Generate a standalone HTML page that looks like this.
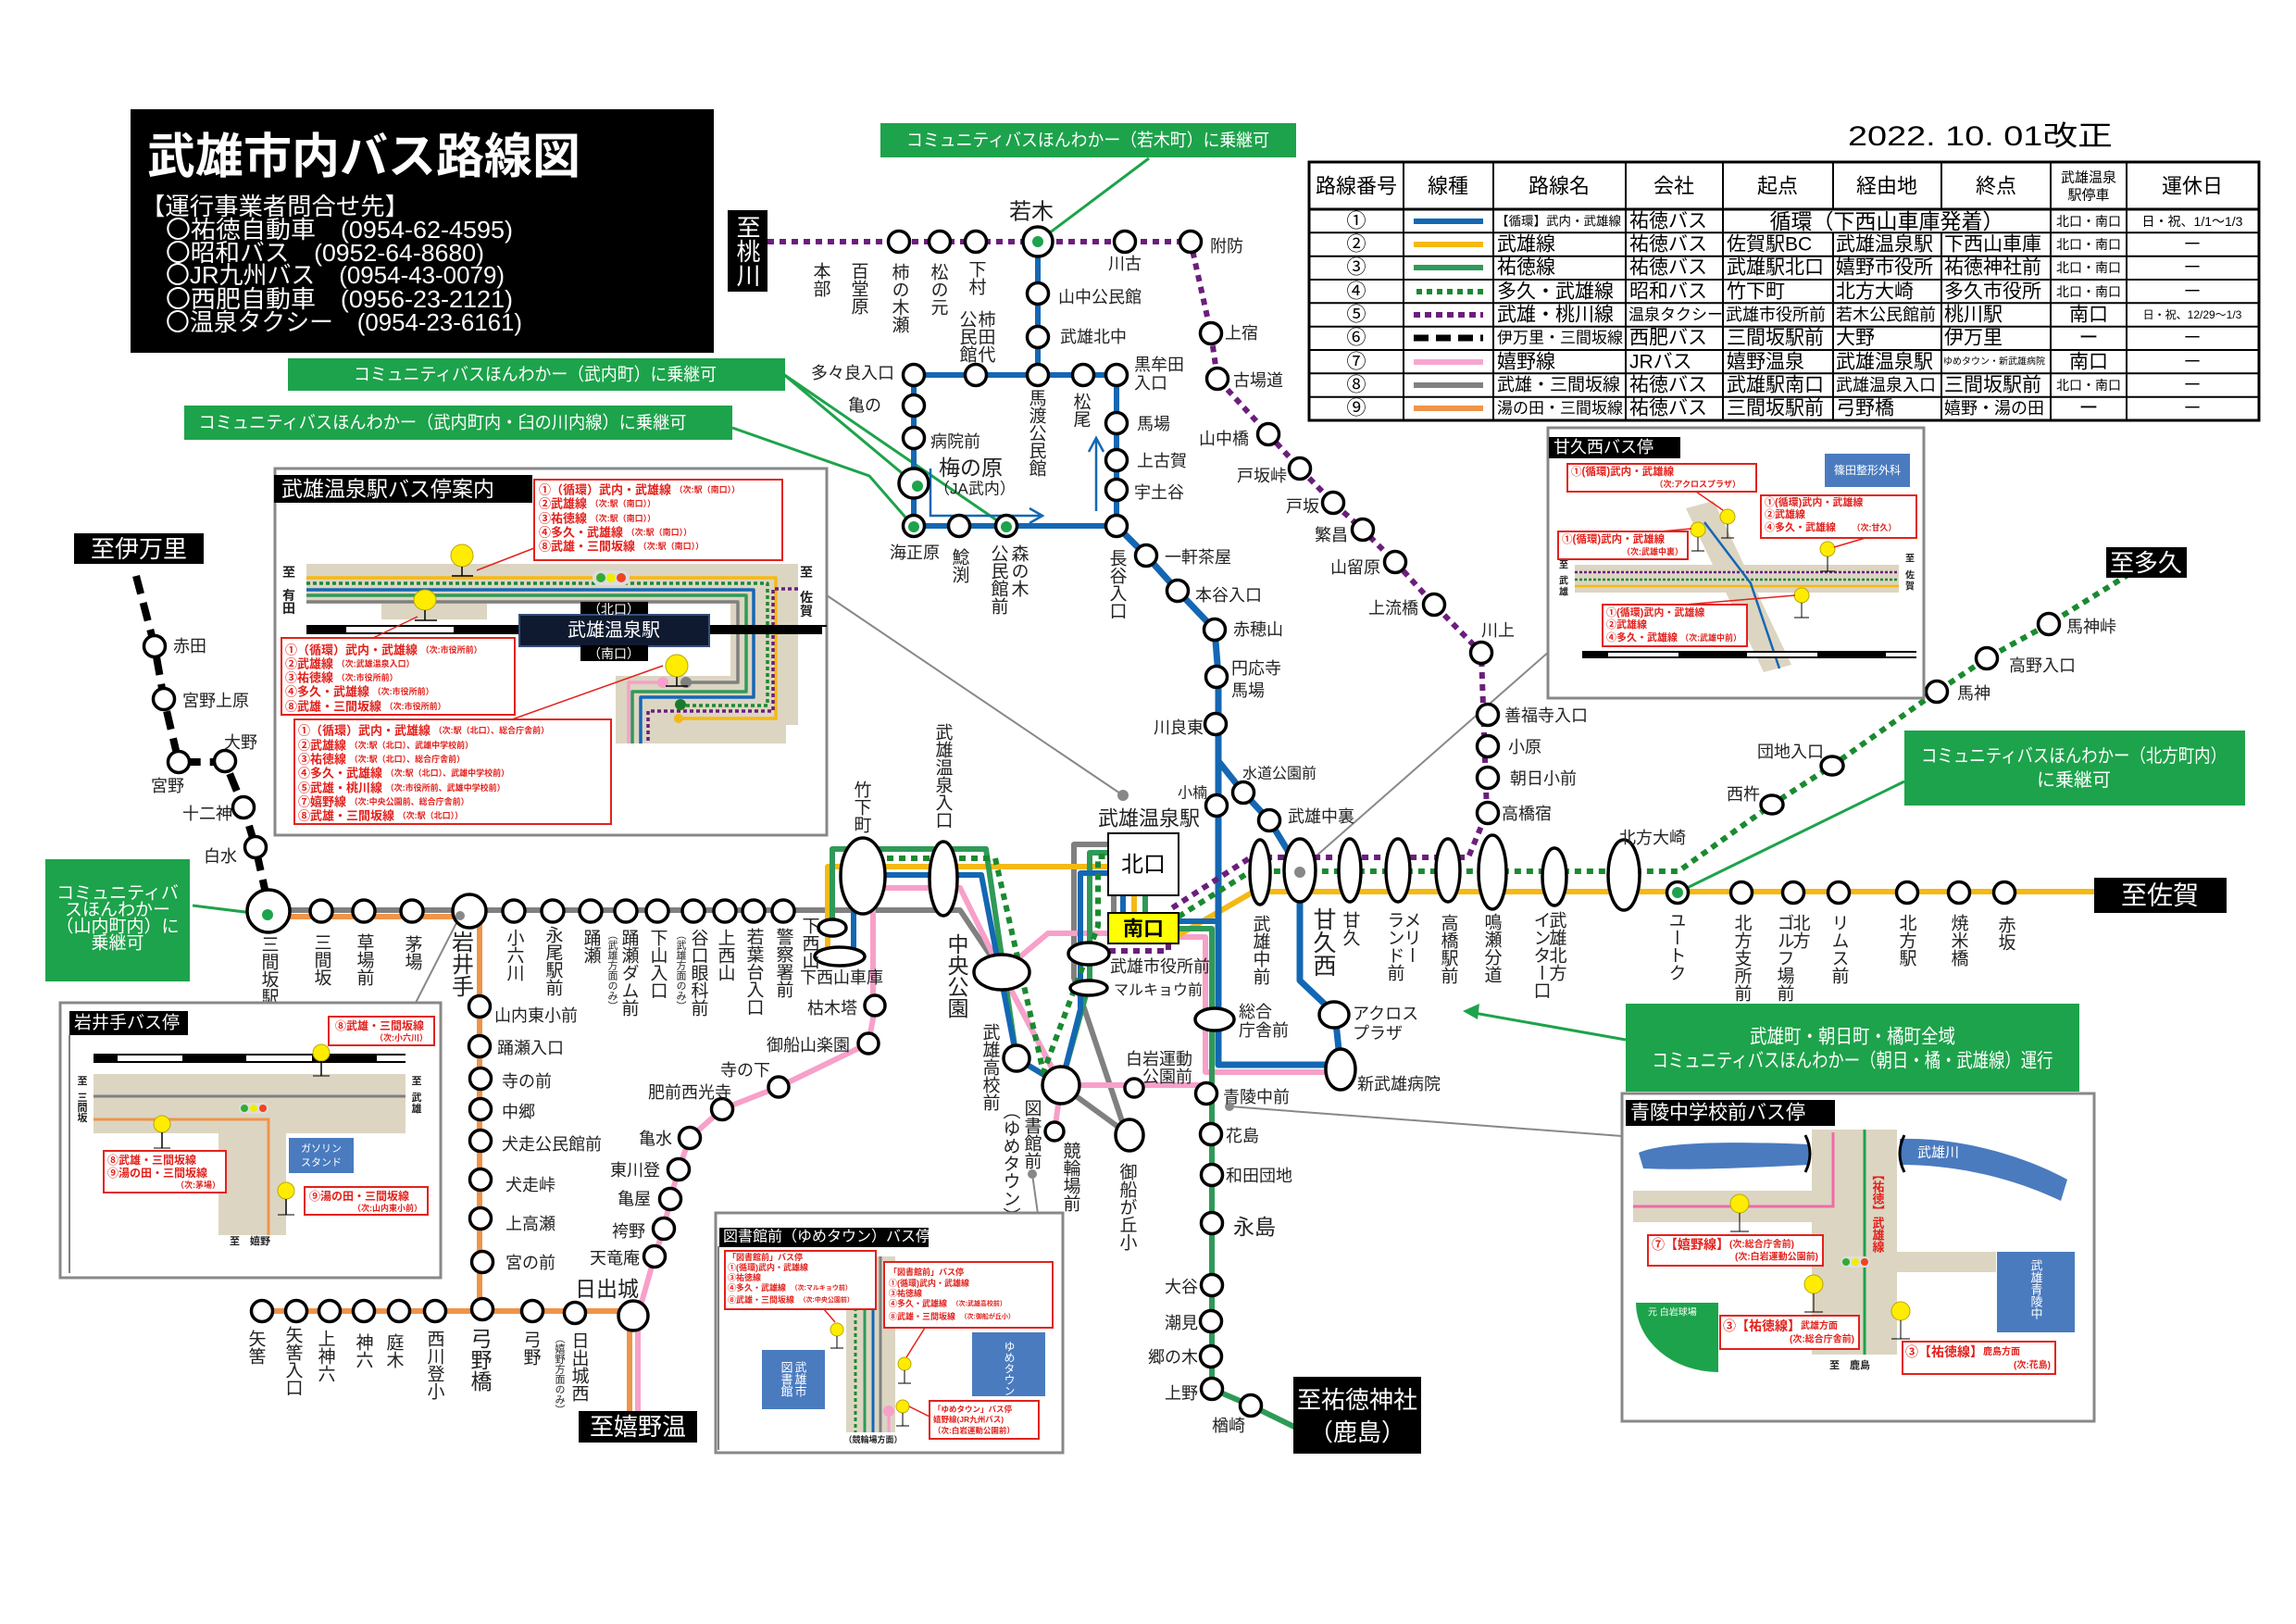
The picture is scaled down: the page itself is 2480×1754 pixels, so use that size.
<!DOCTYPE html>
<html><head><meta charset="utf-8">
<style>
html,body{margin:0;padding:0;background:#fff;}
svg{display:block}
text{font-family:"Liberation Sans","Noto Sans CJK JP",sans-serif;}
.l{font-size:18px;fill:#222;dominant-baseline:central}
.v{writing-mode:vertical-rl;font-size:19px;fill:#222}
.s{fill:#fff;stroke:#000;stroke-width:3.5}
.rb{fill:#fff;stroke:#e3211c;stroke-width:2}
.r{fill:#e3211c;font-weight:bold;dominant-baseline:central}
.rs{font-size:9px}
.t{fill:#000;dominant-baseline:central}
.tc{text-anchor:middle}
.e{text-anchor:end}
.w{fill:#fff}
.bn{fill:#1da34b}
.gd{fill:#1da34b}
.bg{fill:#dcd5c2}
.ln{fill:none;stroke-linejoin:round;stroke-linecap:butt}
.ys{fill:#ffec00;stroke:#b8a800;stroke-width:1}
.rl{stroke:#e3211c;stroke-width:1.5;fill:none}
</style></head><body>
<svg width="2480" height="1754" viewBox="0 0 2480 1754" xmlns="http://www.w3.org/2000/svg">
<rect width="2480" height="1754" fill="#fff"/>

<!-- ===== Title box ===== -->
<rect x="141" y="118" width="630" height="263" fill="#000"/>
<text x="159" y="187" font-size="52" font-weight="bold" class="w">武雄市内バス路線図</text>
<g font-size="26" class="w">
<text x="152" y="232" class="w" textLength="290" lengthAdjust="spacingAndGlyphs">【運行事業者問合せ先】</text>
<text x="179" y="257" class="w" textLength="375" lengthAdjust="spacingAndGlyphs">〇祐徳自動車　(0954-62-4595)</text>
<text x="179" y="282" class="w" textLength="344" lengthAdjust="spacingAndGlyphs">〇昭和バス　(0952-64-8680)</text>
<text x="179" y="306" class="w" textLength="366" lengthAdjust="spacingAndGlyphs">〇JR九州バス　(0954-43-0079)</text>
<text x="179" y="332" class="w" textLength="375" lengthAdjust="spacingAndGlyphs">〇西肥自動車　(0956-23-2121)</text>
<text x="179" y="357" class="w" textLength="385" lengthAdjust="spacingAndGlyphs">〇温泉タクシー　(0954-23-6161)</text>
</g>

<!-- ===== Date ===== -->
<text x="1996" y="157" font-size="30" fill="#000" textLength="286" lengthAdjust="spacingAndGlyphs">2022. 10. 01改正</text>

<!-- ===== Table ===== -->
<g stroke="#000" fill="none">
<rect x="1414" y="175" width="1026" height="279" stroke-width="3"/>
<line x1="1414" y1="226" x2="2440" y2="226" stroke-width="3"/>
<g stroke-width="2">
<line x1="1414" y1="251.3" x2="2440" y2="251.3"/>
<line x1="1414" y1="276.7" x2="2440" y2="276.7"/>
<line x1="1414" y1="302" x2="2440" y2="302"/>
<line x1="1414" y1="327.3" x2="2440" y2="327.3"/>
<line x1="1414" y1="352.7" x2="2440" y2="352.7"/>
<line x1="1414" y1="378" x2="2440" y2="378"/>
<line x1="1414" y1="403.3" x2="2440" y2="403.3"/>
<line x1="1414" y1="428.7" x2="2440" y2="428.7"/>
<line x1="1516" y1="175" x2="1516" y2="454"/>
<line x1="1613" y1="175" x2="1613" y2="454"/>
<line x1="1756" y1="175" x2="1756" y2="454"/>
<line x1="1861" y1="175" x2="1861" y2="454"/>
<line x1="1980" y1="175" x2="1980" y2="226"/>
<line x1="1980" y1="251.3" x2="1980" y2="454"/>
<line x1="2097" y1="175" x2="2097" y2="226"/>
<line x1="2097" y1="251.3" x2="2097" y2="454"/>
<line x1="2215" y1="175" x2="2215" y2="454"/>
<line x1="2297" y1="175" x2="2297" y2="454"/>
</g></g>
<g font-size="22">
<text x="1465" y="201" class="t tc">路線番号</text>
<text x="1564" y="201" class="t tc">線種</text>
<text x="1684" y="201" class="t tc">路線名</text>
<text x="1808" y="201" class="t tc">会社</text>
<text x="1920" y="201" class="t tc">起点</text>
<text x="2038" y="201" class="t tc">経由地</text>
<text x="2156" y="201" class="t tc">終点</text>
<text x="2256" y="192" class="t tc" font-size="15">武雄温泉</text>
<text x="2256" y="211" class="t tc" font-size="15">駅停車</text>
<text x="2368" y="201" class="t tc">運休日</text>
</g>
<g class="ln" stroke-width="6">
<line x1="1527" y1="239" x2="1602" y2="239" stroke="#1467b3"/>
<line x1="1527" y1="264" x2="1602" y2="264" stroke="#f5b914"/>
<line x1="1527" y1="289" x2="1602" y2="289" stroke="#2f9a58"/>
<line x1="1530" y1="315" x2="1602" y2="315" stroke="#1a8a30" stroke-dasharray="6 5"/>
<line x1="1527" y1="340" x2="1602" y2="340" stroke="#6b1e7c" stroke-dasharray="7 5"/>
<line x1="1527" y1="365" x2="1602" y2="365" stroke="#000" stroke-dasharray="16 8" stroke-width="7"/>
<line x1="1527" y1="391" x2="1602" y2="391" stroke="#f7a6cf"/>
<line x1="1527" y1="416" x2="1602" y2="416" stroke="#808080"/>
<line x1="1527" y1="441" x2="1602" y2="441" stroke="#ef9449"/>
</g>
<g font-size="21">
<text x="1465" y="239" class="t tc">①</text><text x="1465" y="264" class="t tc">②</text><text x="1465" y="289" class="t tc">③</text>
<text x="1465" y="315" class="t tc">④</text><text x="1465" y="340" class="t tc">⑤</text><text x="1465" y="365" class="t tc">⑥</text>
<text x="1465" y="391" class="t tc">⑦</text><text x="1465" y="416" class="t tc">⑧</text><text x="1465" y="441" class="t tc">⑨</text>
<text x="1616" y="239" class="t" font-size="13.5">【循環】武内・武雄線</text>
<text x="1617" y="264" class="t">武雄線</text>
<text x="1617" y="289" class="t">祐徳線</text>
<text x="1617" y="315" class="t">多久・武雄線</text>
<text x="1617" y="340" class="t">武雄・桃川線</text>
<text x="1617" y="365" class="t" font-size="17">伊万里・三間坂線</text>
<text x="1617" y="391" class="t">嬉野線</text>
<text x="1617" y="416" class="t" font-size="19">武雄・三間坂線</text>
<text x="1617" y="441" class="t" font-size="17">湯の田・三間坂線</text>
<text x="1760" y="239" class="t">祐徳バス</text>
<text x="1760" y="264" class="t">祐徳バス</text>
<text x="1760" y="289" class="t">祐徳バス</text>
<text x="1760" y="315" class="t">昭和バス</text>
<text x="1759" y="340" class="t" font-size="17">温泉タクシー</text>
<text x="1760" y="365" class="t">西肥バス</text>
<text x="1760" y="391" class="t">JRバス</text>
<text x="1760" y="416" class="t">祐徳バス</text>
<text x="1760" y="441" class="t">祐徳バス</text>
<text x="2038" y="239" class="t tc" font-size="23">循環（下西山車庫発着）</text>
<text x="1865" y="264" class="t">佐賀駅BC</text>
<text x="1865" y="289" class="t">武雄駅北口</text>
<text x="1865" y="315" class="t">竹下町</text>
<text x="1864" y="340" class="t" font-size="18">武雄市役所前</text>
<text x="1865" y="365" class="t">三間坂駅前</text>
<text x="1865" y="391" class="t">嬉野温泉</text>
<text x="1865" y="416" class="t">武雄駅南口</text>
<text x="1865" y="441" class="t">三間坂駅前</text>
<text x="1983" y="264" class="t">武雄温泉駅</text>
<text x="1983" y="289" class="t">嬉野市役所</text>
<text x="1983" y="315" class="t">北方大崎</text>
<text x="1983" y="340" class="t" font-size="18">若木公民館前</text>
<text x="1983" y="365" class="t">大野</text>
<text x="1983" y="391" class="t">武雄温泉駅</text>
<text x="1983" y="416" class="t" font-size="18">武雄温泉入口</text>
<text x="1983" y="441" class="t">弓野橋</text>
<text x="2100" y="264" class="t">下西山車庫</text>
<text x="2100" y="289" class="t">祐徳神社前</text>
<text x="2100" y="315" class="t">多久市役所</text>
<text x="2100" y="340" class="t">桃川駅</text>
<text x="2100" y="365" class="t">伊万里</text>
<text x="2099" y="391" class="t" font-size="10">ゆめタウン・新武雄病院</text>
<text x="2100" y="416" class="t">三間坂駅前</text>
<text x="2100" y="441" class="t" font-size="18">嬉野・湯の田</text>
<text x="2256" y="239" class="t tc" font-size="14">北口・南口</text>
<text x="2256" y="264" class="t tc" font-size="14">北口・南口</text>
<text x="2256" y="289" class="t tc" font-size="14">北口・南口</text>
<text x="2256" y="315" class="t tc" font-size="14">北口・南口</text>
<text x="2256" y="340" class="t tc">南口</text>
<text x="2256" y="365" class="t tc">ー</text>
<text x="2256" y="391" class="t tc">南口</text>
<text x="2256" y="416" class="t tc" font-size="14">北口・南口</text>
<text x="2256" y="441" class="t tc">ー</text>
<text x="2368" y="239" class="t tc" font-size="14">日・祝、1/1～1/3</text>
<text x="2368" y="264" class="t tc">－</text>
<text x="2368" y="289" class="t tc">－</text>
<text x="2368" y="315" class="t tc">－</text>
<text x="2368" y="340" class="t tc" font-size="12">日・祝、12/29～1/3</text>
<text x="2368" y="365" class="t tc">－</text>
<text x="2368" y="391" class="t tc">－</text>
<text x="2368" y="416" class="t tc">－</text>
<text x="2368" y="441" class="t tc">－</text>
</g>

<!-- ===== Green banners ===== -->
<rect x="951" y="133" width="449" height="37" class="bn"/>
<text x="1175" y="152" class="w tc" font-size="19" dominant-baseline="central" textLength="392" lengthAdjust="spacingAndGlyphs">コミュニティバスほんわかー（若木町）に乗継可</text>
<rect x="311" y="387" width="537" height="35" class="bn"/>
<text x="578" y="405" class="w tc" font-size="19" dominant-baseline="central" textLength="392" lengthAdjust="spacingAndGlyphs">コミュニティバスほんわかー（武内町）に乗継可</text>
<rect x="199" y="438" width="592" height="37" class="bn"/>
<text x="478" y="457" class="w tc" font-size="19" dominant-baseline="central" textLength="527" lengthAdjust="spacingAndGlyphs">コミュニティバスほんわかー（武内町内・臼の川内線）に乗継可</text>
<rect x="49" y="928" width="156" height="132" class="bn"/>
<g class="w" font-size="19" text-anchor="middle" dominant-baseline="central">
<text x="127" y="965">コミュニティバ</text>
<text x="127" y="983">スほんわかー</text>
<text x="127" y="1001">（山内町内）に</text>
<text x="127" y="1019">乗継可</text>
</g>
<rect x="2057" y="789" width="368" height="81" class="bn"/>
<text x="2240" y="817" class="w tc" font-size="20" dominant-baseline="central" textLength="330" lengthAdjust="spacingAndGlyphs">コミュニティバスほんわかー（北方町内）</text>
<text x="2240" y="843" class="w tc" font-size="20" dominant-baseline="central">に乗継可</text>
<rect x="1756" y="1084" width="490" height="95" class="bn"/>
<text x="2001" y="1120" class="w tc" font-size="21" dominant-baseline="central" textLength="222" lengthAdjust="spacingAndGlyphs">武雄町・朝日町・橘町全域</text>
<text x="2001" y="1146" class="w tc" font-size="21" dominant-baseline="central" textLength="433" lengthAdjust="spacingAndGlyphs">コミュニティバスほんわかー（朝日・橘・武雄線）運行</text>

<!-- ===== Connector lines ===== -->
<g stroke="#1da34b" stroke-width="3" fill="none">
<path d="M1241,171 L1121,261"/>
<path d="M846,404 L991,525"/>
<path d="M846,404 L1087,569"/>
<path d="M791,462 L939,514 L987,569"/>
<path d="M208,978 L289,988"/>
<path d="M2057,844 L1812,964"/>
<path d="M1756,1123 L1592,1094"/>
</g>
<polygon points="1580,1092 1598,1084 1596,1101" fill="#1da34b"/>
<g stroke="#888" stroke-width="2" fill="none">
<path d="M893,643 L1213,859"/>
<path d="M497,989 L449,1083"/>
<path d="M1115,1268 L1121,1311"/>
<path d="M1404,940 L1674,703"/>
<path d="M1328,1195 L1752,1227"/>
</g>

<!-- ===== Route lines ===== -->
<g class="ln" stroke-width="6">
<path d="M290,990 H518 V1416 M283,1416 H684 M680,1416 V1524" stroke="#ef9449"/>
<path d="M290,983 H1037 L1082,1050 L1146,1172 L1220,1226 M1197,912 H1160 V1056 L1213,1214 M1203,967 V986" stroke="#808080"/>
<path d="M689,1524 V1421 L707,1357 L717,1327 L724,1295 L733,1263 L745,1229 L780,1198 L841,1174 L938,1127 L943,1100 V959 H1037 L1082,1050 L1146,1172 H1303 M1082,1050 L1132,1008 H1197 M1273,1012 H1302 V1158 H1440 M1146,1172 L1139,1222" stroke="#f7a0c9"/>
<path d="M894,1033 V936 H1197 M1273,1010 L1354,963 H2262 M1225,967 V986" stroke="#f5b914"/>
<path d="M899,1000 V917 H1065 L1098,1143 L1146,1172 L1177,1060 V921 H1197 M1273,1003 H1309 V1500 L1351,1518 L1400,1542 M1237,967 V986" stroke="#2f9a58"/>
<path d="M922,1033 V945 H1060 L1098,1143 L1146,1172 L1167,1090 V943 H1197 M1273,995 H1316 M987,405 H1206 V568 H987 Z M1121,261 V405 M1213,967 V986" stroke="#1467b3"/>
<path d="M1206,568 L1238,600 L1272,638 L1312,680 L1316,730 V1150 H1448 M1316,822 L1343,856 L1371,886 L1404,940 V1059 L1442,1095 L1448,1153" stroke="#1467b3" stroke-width="7"/>
<path d="M958,927 H1075 L1127,1158 L1186,1000 V925 H1197 M1273,990 L1351,941 H1813 L1914,869 L1979,827 L2092,747 L2146,711 L2213,674 L2300,620" stroke="#1a8a30" stroke-dasharray="7 6"/>
<path d="M829,261 H1286 L1308,360 L1315,409 L1370,469 L1404,506 L1440,543 L1472,572 L1507,607 L1549,653 L1600,705 L1606,878 L1586,926 H1351 L1264,982 M1262,1019 V1027 H1198" stroke="#6b1e7c" stroke-dasharray="7 6"/>
<path d="M147,622 L167,698 L177,755 L193,823 H243 L263,872 L276,915 L291,983" stroke="#000" stroke-width="8" stroke-dasharray="20 10"/>
</g>
<g stroke="#1467b3" stroke-width="2.5" fill="none">
<path d="M1005,506 V557 H1125"/>
<path d="M1112,549 L1126,557 L1112,565"/>
<path d="M1184,552 V474"/>
<path d="M1176,488 L1184,473 L1192,488"/>
</g>

<!-- ===== Station boxes ===== -->
<rect x="1197" y="900" width="76" height="67" fill="#fff" stroke="#000" stroke-width="2"/>
<text x="1235" y="934" font-size="24" text-anchor="middle" dominant-baseline="central" fill="#000">北口</text>
<rect x="1197" y="986" width="76" height="33" fill="#ffff00" stroke="#000" stroke-width="2"/>
<text x="1235" y="1003" font-size="22" font-weight="bold" text-anchor="middle" dominant-baseline="central" fill="#000">南口</text>

<!-- ===== Stops ===== -->
<g class="s">
<circle cx="971" cy="261" r="11.5"/><circle cx="1015" cy="261" r="11.5"/><circle cx="1054" cy="261" r="11.5"/>
<circle cx="1121" cy="261" r="16"/><circle cx="1215" cy="261" r="11.5"/><circle cx="1286" cy="261" r="11.5"/>
<circle cx="1121" cy="317" r="11.5"/><circle cx="1121" cy="364" r="11.5"/><circle cx="1121" cy="405" r="11.5"/>
<circle cx="987" cy="405" r="11.5"/><circle cx="1054" cy="405" r="11.5"/><circle cx="1170" cy="405" r="11.5"/><circle cx="1206" cy="405" r="11.5"/>
<circle cx="987" cy="438" r="11.5"/><circle cx="987" cy="473" r="11.5"/><circle cx="987" cy="522" r="16"/><circle cx="987" cy="568" r="11.5"/>
<circle cx="1036" cy="568" r="11.5"/><circle cx="1087" cy="568" r="11.5"/><circle cx="1206" cy="568" r="11.5"/>
<circle cx="1206" cy="457" r="11.5"/><circle cx="1206" cy="497" r="11.5"/><circle cx="1206" cy="529" r="11.5"/>
<circle cx="1238" cy="600" r="11.5"/><circle cx="1272" cy="638" r="11.5"/><circle cx="1312" cy="680" r="11.5"/>
<circle cx="1314" cy="731" r="11.5"/><circle cx="1313" cy="782" r="11.5"/><circle cx="1314" cy="870" r="11.5"/>
<circle cx="1343" cy="856" r="11.5"/><circle cx="1371" cy="886" r="11.5"/>
<circle cx="1308" cy="360" r="11.5"/><circle cx="1315" cy="409" r="11.5"/><circle cx="1370" cy="469" r="11.5"/>
<circle cx="1404" cy="506" r="11.5"/><circle cx="1440" cy="543" r="11.5"/><circle cx="1472" cy="572" r="11.5"/>
<circle cx="1507" cy="607" r="11.5"/><circle cx="1549" cy="653" r="11.5"/><circle cx="1600" cy="705" r="11.5"/>
<circle cx="1607" cy="772" r="11.5"/><circle cx="1607" cy="806" r="11.5"/><circle cx="1607" cy="840" r="11.5"/><circle cx="1607" cy="878" r="11.5"/>
<ellipse cx="1914" cy="869" rx="12" ry="10"/><ellipse cx="1979" cy="827" rx="12" ry="10"/>
<circle cx="2092" cy="747" r="11.5"/><circle cx="2146" cy="711" r="11.5"/><circle cx="2213" cy="674" r="11.5"/>
<circle cx="1812" cy="964" r="11.5"/><circle cx="1881" cy="964" r="11.5"/><circle cx="1937" cy="964" r="11.5"/>
<circle cx="1986" cy="964" r="11.5"/><circle cx="2060" cy="964" r="11.5"/><circle cx="2116" cy="964" r="11.5"/><circle cx="2165" cy="964" r="11.5"/>
<ellipse cx="1361" cy="942" rx="11" ry="35"/><ellipse cx="1404" cy="940" rx="17" ry="34"/>
<ellipse cx="1458" cy="940" rx="12" ry="34"/><ellipse cx="1510" cy="940" rx="13" ry="34"/>
<ellipse cx="1564" cy="940" rx="13" ry="34"/><ellipse cx="1612" cy="942" rx="15" ry="40"/>
<ellipse cx="1679" cy="947" rx="13" ry="31"/><ellipse cx="1754" cy="945" rx="17" ry="38"/>
<ellipse cx="932" cy="946" rx="24" ry="41"/><ellipse cx="1019" cy="949" rx="15" ry="40"/>
<ellipse cx="899" cy="1002" rx="15" ry="9"/><ellipse cx="907" cy="1033" rx="27" ry="10"/>
<ellipse cx="1082" cy="1050" rx="30" ry="19"/><ellipse cx="1176" cy="1030" rx="22" ry="12"/>
<ellipse cx="1176" cy="1067" rx="20" ry="8"/><ellipse cx="1312" cy="1101" rx="21" ry="12"/>
<circle cx="1146" cy="1172" r="20"/><circle cx="1098" cy="1143" r="14"/><circle cx="1139" cy="1222" r="10"/>
<ellipse cx="1220" cy="1226" rx="15" ry="17"/><circle cx="1225" cy="1175" r="10"/>
<ellipse cx="1441" cy="1096" rx="16" ry="14"/><ellipse cx="1448" cy="1155" rx="16" ry="22"/>
<circle cx="1303" cy="1181" r="11.5"/>
<circle cx="945" cy="1086" r="11"/><circle cx="938" cy="1127" r="11"/><circle cx="841" cy="1174" r="11"/>
<circle cx="1308" cy="1225" r="11.5"/><circle cx="1309" cy="1269" r="11.5"/><circle cx="1309" cy="1321" r="11.5"/>
<circle cx="1309" cy="1388" r="11.5"/><circle cx="1308" cy="1427" r="11.5"/><circle cx="1308" cy="1465" r="11.5"/>
<circle cx="1309" cy="1500" r="11.5"/><circle cx="1351" cy="1518" r="11.5"/>
<circle cx="707" cy="1357" r="11.5"/><circle cx="717" cy="1327" r="11.5"/><circle cx="724" cy="1295" r="11.5"/>
<circle cx="733" cy="1263" r="11.5"/><circle cx="745" cy="1229" r="11.5"/><circle cx="780" cy="1198" r="11.5"/>
<circle cx="290" cy="984" r="23"/><circle cx="347" cy="984" r="12"/><circle cx="393" cy="984" r="12"/><circle cx="445" cy="984" r="12"/>
<circle cx="507" cy="984" r="18"/><circle cx="555" cy="984" r="12"/><circle cx="597" cy="984" r="12"/><circle cx="638" cy="984" r="12"/>
<circle cx="676" cy="984" r="12"/><circle cx="710" cy="984" r="12"/><circle cx="749" cy="984" r="12"/><circle cx="783" cy="984" r="12"/>
<circle cx="814" cy="984" r="12"/><circle cx="846" cy="984" r="12"/>
<circle cx="518" cy="1087" r="11.5"/><circle cx="518" cy="1130" r="11.5"/><circle cx="519" cy="1165" r="11.5"/>
<circle cx="519" cy="1198" r="11.5"/><circle cx="519" cy="1232" r="11.5"/><circle cx="519" cy="1274" r="11.5"/>
<circle cx="519" cy="1316" r="11.5"/><circle cx="521" cy="1363" r="11.5"/>
<circle cx="283" cy="1416" r="11.5"/><circle cx="320" cy="1416" r="11.5"/><circle cx="356" cy="1416" r="11.5"/>
<circle cx="393" cy="1416" r="11.5"/><circle cx="431" cy="1416" r="11.5"/><circle cx="470" cy="1416" r="11.5"/>
<circle cx="521" cy="1414" r="11.5"/><circle cx="575" cy="1416" r="11.5"/><circle cx="621" cy="1418" r="11.5"/>
<circle cx="684" cy="1421" r="16"/>
<circle cx="167" cy="698" r="11.5"/><circle cx="177" cy="755" r="11.5"/><circle cx="193" cy="823" r="11.5"/>
<circle cx="243" cy="822" r="11.5"/><circle cx="263" cy="872" r="11.5"/><circle cx="276" cy="915" r="11.5"/>
</g>
<g class="gd">
<circle cx="1121" cy="261" r="6"/><circle cx="991" cy="525" r="6"/><circle cx="1087" cy="569" r="6"/>
<circle cx="987" cy="569" r="6"/><circle cx="289" cy="988" r="6"/><circle cx="1812" cy="964" r="6"/>
</g>
<g fill="#888">
<circle cx="1213" cy="859" r="6"/><circle cx="497" cy="989" r="5"/><circle cx="1115" cy="1268" r="5"/>
<circle cx="1404" cy="942" r="6"/><circle cx="1328" cy="1195" r="5"/>
</g>

<!-- ===== "To" boxes ===== -->
<rect x="786" y="227" width="43" height="88" fill="#000"/>
<text x="807" y="232" class="v" style="fill:#fff;font-size:26px">至桃川</text>
<rect x="80" y="576" width="140" height="33" fill="#000"/>
<text x="150" y="593" font-size="26" fill="#fff" text-anchor="middle" dominant-baseline="central">至伊万里</text>
<rect x="2275" y="591" width="87" height="33" fill="#000"/>
<text x="2318" y="608" font-size="26" fill="#fff" text-anchor="middle" dominant-baseline="central">至多久</text>
<rect x="2262" y="948" width="143" height="38" fill="#000"/>
<text x="2333" y="967" font-size="28" fill="#fff" text-anchor="middle" dominant-baseline="central">至佐賀</text>
<rect x="625" y="1524" width="128" height="34" fill="#000"/>
<text x="689" y="1541" font-size="26" fill="#fff" text-anchor="middle" dominant-baseline="central">至嬉野温</text>
<rect x="1397" y="1487" width="138" height="83" fill="#000"/>
<text x="1466" y="1512" font-size="26" fill="#fff" text-anchor="middle" dominant-baseline="central">至祐徳神社</text>
<text x="1466" y="1547" font-size="26" fill="#fff" text-anchor="middle" dominant-baseline="central">（鹿島）</text>

<!-- ===== Labels (vertical) ===== -->
<g>
<text class="v" x="886" y="283">本部</text>
<text class="v" x="927" y="283">百堂原</text>
<text class="v" x="971" y="284">柿の木瀬</text>
<text class="v" x="1013" y="284">松の元</text>
<text class="v" x="1054" y="281">下村</text>
<text class="v" x="1064" y="335">柿田代</text>
<text class="v" x="1044" y="335">公民館</text>
<text class="v" x="1119" y="420">馬渡公民館</text>
<text class="v" x="1167" y="424">松尾</text>
<text class="v" x="1036" y="592">鯰渕</text>
<text class="v" x="1100" y="588">森の木</text>
<text class="v" x="1078" y="588">公民館前</text>
<text class="v" x="1206" y="593">長谷入口</text>
<text class="v" x="290" y="1010">三間坂駅前</text>
<text class="v" x="347" y="1008">三間坂</text>
<text class="v" x="393" y="1008">草場前</text>
<text class="v" x="445" y="1010">茅場</text>
<text class="v" x="497" y="1005" style="font-size:24px">岩井手</text>
<text class="v" x="555" y="1003">小六川</text>
<text class="v" x="597" y="1000">永尾駅前</text>
<text class="v" x="638" y="1003">踊瀬</text>
<text class="v" x="661" y="1004" style="font-size:11px">（武雄方面のみ）</text>
<text class="v" x="679" y="1003">踊瀬ダム前</text>
<text class="v" x="710" y="1003">下山入口</text>
<text class="v" x="735" y="1004" style="font-size:11px">（武雄方面のみ）</text>
<text class="v" x="754" y="1003">谷口眼科前</text>
<text class="v" x="783" y="1003">上西山</text>
<text class="v" x="814" y="1002">若葉台入口</text>
<text class="v" x="846" y="1002">警察署前</text>
<text class="v" x="276" y="1436">矢筈</text>
<text class="v" x="316" y="1432">矢筈入口</text>
<text class="v" x="351" y="1436">上神六</text>
<text class="v" x="392" y="1440">神六</text>
<text class="v" x="425" y="1440">庭木</text>
<text class="v" x="469" y="1436">西川登小</text>
<text class="v" x="518" y="1434" style="font-size:23px">弓野橋</text>
<text class="v" x="573" y="1437">弓野</text>
<text class="v" x="604" y="1440" style="font-size:11px">（嬉野方面のみ）</text>
<text class="v" x="625" y="1438">日出城西</text>
<text class="v" x="930" y="843">竹下町</text>
<text class="v" x="1018" y="781">武雄温泉入口</text>
<text class="v" x="874" y="990">下西山</text>
<text class="v" x="1033" y="1008" style="font-size:23px">中央公園</text>
<text class="v" x="1069" y="1105">武雄高校前</text>
<text class="v" x="1091" y="1190">（ゆめタウン）</text>
<text class="v" x="1114" y="1187">図書館前</text>
<text class="v" x="1156" y="1233">競輪場前</text>
<text class="v" x="1217" y="1256">御船が丘小</text>
<text class="v" x="1361" y="988">武雄中前</text>
<text class="v" x="1429" y="980" style="font-size:25px">甘久西</text>
<text class="v" x="1458" y="984">甘久</text>
<text class="v" x="1524" y="984">メリー</text>
<text class="v" x="1506" y="984">ランド前</text>
<text class="v" x="1564" y="987">高橋駅前</text>
<text class="v" x="1611" y="986">鳴瀬分道</text>
<text class="v" x="1681" y="984">武雄北方</text>
<text class="v" x="1664" y="984">インター口</text>
<text class="v" x="1810" y="984">ユートク</text>
<text class="v" x="1881" y="987">北方支所前</text>
<text class="v" x="1944" y="987">北方</text>
<text class="v" x="1927" y="987">ゴルフ場前</text>
<text class="v" x="1986" y="987">リムス前</text>
<text class="v" x="2059" y="987">北方駅</text>
<text class="v" x="2115" y="987">焼米橋</text>
<text class="v" x="2166" y="989">赤坂</text>
</g>

<!-- ===== Labels (horizontal) ===== -->
<g>
<text class="l tc" x="1114" y="229" style="font-size:24px">若木</text>
<text class="l tc" x="1215" y="285">川古</text>
<text class="l" x="1307" y="266">附防</text>
<text class="l" x="1143" y="321">山中公民館</text>
<text class="l" x="1145" y="364">武雄北中</text>
<text class="l e" x="966" y="403">多々良入口</text>
<text class="l e" x="952" y="438">亀の</text>
<text class="l" x="1005" y="477">病院前</text>
<text class="l" x="1014" y="505" style="font-size:23px">梅の原</text>
<text class="l" x="1009" y="528" style="font-size:17px">（JA武内）</text>
<text class="l" x="1225" y="394">黒牟田</text>
<text class="l" x="1225" y="414">入口</text>
<text class="l" x="1228" y="458">馬場</text>
<text class="l" x="1228" y="498">上古賀</text>
<text class="l" x="1225" y="532">宇土谷</text>
<text class="l" x="961" y="597">海正原</text>
<text class="l" x="1258" y="602">一軒茶屋</text>
<text class="l" x="1291" y="643">本谷入口</text>
<text class="l" x="1332" y="680">赤穂山</text>
<text class="l" x="1330" y="722">円応寺</text>
<text class="l" x="1330" y="746">馬場</text>
<text class="l e" x="1300" y="786">川良東</text>
<text class="l e" x="1304" y="857" style="font-size:16px">小楠</text>
<text class="l" x="1342" y="836" style="font-size:16px">水道公園前</text>
<text class="l" x="1391" y="882">武雄中裏</text>
<text class="l" x="1186" y="884" style="font-size:22px">武雄温泉駅</text>
<text class="l" x="1323" y="360">上宿</text>
<text class="l" x="1332" y="411">古場道</text>
<text class="l e" x="1349" y="474">山中橋</text>
<text class="l e" x="1390" y="514">戸坂峠</text>
<text class="l e" x="1425" y="547">戸坂</text>
<text class="l e" x="1456" y="578">繁昌</text>
<text class="l e" x="1491" y="613">山留原</text>
<text class="l e" x="1532" y="657">上流橋</text>
<text class="l" x="1600" y="681">川上</text>
<text class="l" x="1625" y="773">善福寺入口</text>
<text class="l" x="1629" y="807">小原</text>
<text class="l" x="1631" y="841">朝日小前</text>
<text class="l" x="1622" y="879">高橋宿</text>
<text class="l" x="1749" y="905">北方大崎</text>
<text class="l e" x="1901" y="858">西杵</text>
<text class="l e" x="1970" y="812">団地入口</text>
<text class="l" x="2114" y="749">馬神</text>
<text class="l" x="2170" y="719">高野入口</text>
<text class="l" x="2232" y="677">馬神峠</text>
<text class="l" x="864" y="1056">下西山車庫</text>
<text class="l e" x="926" y="1089">枯木塔</text>
<text class="l e" x="918" y="1129">御船山楽園</text>
<text class="l e" x="832" y="1156">寺の下</text>
<text class="l" x="1199" y="1044">武雄市役所前</text>
<text class="l" x="1203" y="1070" style="font-size:16px">マルキョウ前</text>
<text class="l" x="1216" y="1144">白岩運動</text>
<text class="l" x="1234" y="1163">公園前</text>
<text class="l" x="1338" y="1093">総合</text>
<text class="l" x="1338" y="1113">庁舎前</text>
<text class="l" x="1321" y="1185">青陵中前</text>
<text class="l" x="1461" y="1095">アクロス</text>
<text class="l" x="1461" y="1116">プラザ</text>
<text class="l" x="1466" y="1171">新武雄病院</text>
<text class="l" x="1324" y="1227">花島</text>
<text class="l" x="1324" y="1270">和田団地</text>
<text class="l" x="1332" y="1325" style="font-size:23px">永島</text>
<text class="l e" x="1294" y="1390">大谷</text>
<text class="l e" x="1294" y="1429">潮見</text>
<text class="l e" x="1294" y="1466">郷の木</text>
<text class="l e" x="1294" y="1505">上野</text>
<text class="l" x="1309" y="1540">楢崎</text>
<text class="l e" x="790" y="1180">肥前西光寺</text>
<text class="l e" x="726" y="1230">亀水</text>
<text class="l e" x="713" y="1264">東川登</text>
<text class="l e" x="703" y="1295">亀屋</text>
<text class="l e" x="697" y="1330">袴野</text>
<text class="l e" x="691" y="1359">天竜庵</text>
<text class="l" x="621" y="1392" style="font-size:23px">日出城</text>
<text class="l" x="534" y="1097">山内東小前</text>
<text class="l" x="537" y="1132">踊瀬入口</text>
<text class="l" x="542" y="1168">寺の前</text>
<text class="l" x="542" y="1201">中郷</text>
<text class="l" x="542" y="1236">犬走公民館前</text>
<text class="l" x="546" y="1280">犬走峠</text>
<text class="l" x="546" y="1322">上高瀬</text>
<text class="l" x="546" y="1364">宮の前</text>
<text class="l" x="187" y="698">赤田</text>
<text class="l" x="197" y="757">宮野上原</text>
<text class="l" x="242" y="802">大野</text>
<text class="l" x="163" y="849">宮野</text>
<text class="l e" x="251" y="879">十二神</text>
<text class="l e" x="256" y="925">白水</text>
</g>

<!-- ===== Station inset ===== -->
<g>
<rect x="297" y="506" width="596" height="396" fill="#fff" stroke="#888" stroke-width="3"/>
<rect x="296" y="513" width="279" height="30" fill="#000"/>
<text x="304" y="528" font-size="23" fill="#fff" dominant-baseline="central">武雄温泉駅バス停案内</text>
<rect x="331" y="609" width="531" height="43" class="bg"/>
<rect x="412" y="652" width="114" height="17" class="bg"/>
<rect x="789" y="609" width="73" height="174" class="bg"/>
<rect x="665" y="730" width="184" height="73" class="bg"/>
<g class="ln" stroke-width="3.5">
<path d="M331,624 H838 V776 H733" stroke="#f5b914"/>
<path d="M331,630 H829 V762 H735" stroke="#1a8a30" stroke-dasharray="4 3"/>
<path d="M862,636 H835 V768 H700 V803" stroke="#6b1e7c" stroke-dasharray="4 3"/>
<path d="M331,637 H814 V753 H692 V803" stroke="#1467b3"/>
<path d="M331,643 H806 V747 H683 V803" stroke="#2f9a58"/>
<path d="M331,650 H797 V737 H741" stroke="#808080"/>
<path d="M679,803 V737 H716" stroke="#f7a0c9"/>
</g>
<circle cx="733" cy="776" r="5" fill="#f5b914"/><circle cx="735" cy="761" r="6" fill="#1a7a2a"/>
<circle cx="741" cy="737" r="6" fill="#808080"/><circle cx="716" cy="737" r="6" fill="#f7a0c9"/>
<rect x="331" y="675" width="557" height="10" fill="#000"/>
<rect x="374" y="677" width="116" height="6" fill="#fff"/>
<line x1="850" y1="676" x2="893" y2="676" stroke="#000" stroke-width="2"/>
<rect x="627" y="650" width="73" height="16" fill="#000"/>
<rect x="561" y="664" width="205" height="34" fill="#0f1a30" stroke="#34507a" stroke-width="2"/>
<rect x="627" y="697" width="73" height="17" fill="#000"/>
<text x="663" y="658" font-size="14" fill="#fff" text-anchor="middle" dominant-baseline="central">（北口）</text>
<text x="663" y="681" font-size="20" fill="#fff" text-anchor="middle" dominant-baseline="central">武雄温泉駅</text>
<text x="663" y="706" font-size="14" fill="#fff" text-anchor="middle" dominant-baseline="central">（南口）</text>
<rect x="640" y="616" width="40" height="16" rx="7" fill="#ddd"/>
<circle cx="649" cy="624" r="5" fill="#3a3"/><circle cx="660" cy="624" r="5" fill="#ee0"/><circle cx="671" cy="624" r="5" fill="#e42"/>
<g font-size="14" font-weight="bold" fill="#222" text-anchor="middle" dominant-baseline="central">
<text x="312" y="618">至</text><text x="312" y="643">有</text><text x="312" y="657">田</text>
<text x="871" y="618">至</text><text x="871" y="645">佐</text><text x="871" y="660">賀</text>
</g>
<ellipse cx="499" cy="600" rx="12" ry="12" class="ys"/><line x1="499" y1="612" x2="499" y2="622" stroke="#000" stroke-width="1.5"/><line x1="488" y1="622" x2="511" y2="622" stroke="#000" stroke-width="1.5"/>
<ellipse cx="459" cy="648" rx="12" ry="11" class="ys"/><line x1="459" y1="659" x2="459" y2="670" stroke="#000" stroke-width="1.5"/><line x1="448" y1="670" x2="472" y2="670" stroke="#000" stroke-width="1.5"/>
<ellipse cx="731" cy="719" rx="12" ry="12" class="ys"/><line x1="731" y1="731" x2="731" y2="741" stroke="#000" stroke-width="1.5"/><line x1="719" y1="741" x2="743" y2="741" stroke="#000" stroke-width="1.5"/>
<path d="M515,616 L577,592 M451,666 L403,689 M716,719 L553,777" class="rl"/>
<rect x="577" y="518" width="268" height="87" class="rb"/>
<rect x="304" y="689" width="252" height="83" class="rb"/>
<rect x="318" y="777" width="342" height="113" class="rb"/>
<g font-size="13">
<text x="582" y="529" class="r">①（循環）武内・武雄線 <tspan class="rs">（次:駅（南口））</tspan></text>
<text x="582" y="544" class="r">②武雄線 <tspan class="rs">（次:駅（南口））</tspan></text>
<text x="582" y="560" class="r">③祐徳線 <tspan class="rs">（次:駅（南口））</tspan></text>
<text x="582" y="575" class="r">④多久・武雄線 <tspan class="rs">（次:駅（南口））</tspan></text>
<text x="582" y="590" class="r">⑧武雄・三間坂線 <tspan class="rs">（次:駅（南口））</tspan></text>
<text x="308" y="702" class="r">①（循環）武内・武雄線 <tspan class="rs">（次:市役所前）</tspan></text>
<text x="308" y="717" class="r">②武雄線 <tspan class="rs">（次:武雄温泉入口）</tspan></text>
<text x="308" y="732" class="r">③祐徳線 <tspan class="rs">（次:市役所前）</tspan></text>
<text x="308" y="747" class="r">④多久・武雄線 <tspan class="rs">（次:市役所前）</tspan></text>
<text x="308" y="763" class="r">⑧武雄・三間坂線 <tspan class="rs">（次:市役所前）</tspan></text>
<text x="322" y="789" class="r">①（循環）武内・武雄線 <tspan class="rs">（次:駅（北口）、総合庁舎前）</tspan></text>
<text x="322" y="805" class="r">②武雄線 <tspan class="rs">（次:駅（北口）、武雄中学校前）</tspan></text>
<text x="322" y="820" class="r">③祐徳線 <tspan class="rs">（次:駅（北口）、総合庁舎前）</tspan></text>
<text x="322" y="835" class="r">④多久・武雄線 <tspan class="rs">（次:駅（北口）、武雄中学校前）</tspan></text>
<text x="322" y="851" class="r">⑤武雄・桃川線 <tspan class="rs">（次:市役所前、武雄中学校前）</tspan></text>
<text x="322" y="866" class="r">⑦嬉野線 <tspan class="rs">（次:中央公園前、総合庁舎前）</tspan></text>
<text x="322" y="881" class="r">⑧武雄・三間坂線 <tspan class="rs">（次:駅（北口））</tspan></text>
</g>
</g>

<!-- ===== Iwaide inset ===== -->
<g>
<rect x="65" y="1083" width="411" height="297" fill="#fff" stroke="#888" stroke-width="3"/>
<line x1="75" y1="1118" x2="75" y2="1375" stroke="#000" stroke-width="1"/>
<rect x="75" y="1092" width="128" height="26" fill="#000"/>
<text x="80" y="1105" font-size="19" fill="#fff" dominant-baseline="central">岩井手バス停</text>
<rect x="101" y="1138" width="337" height="10" fill="#000"/>
<rect x="127" y="1140" width="70" height="6" fill="#fff"/><rect x="266" y="1140" width="71" height="6" fill="#fff"/><rect x="407" y="1140" width="31" height="6" fill="#fff"/>
<rect x="101" y="1160" width="337" height="64" class="bg"/>
<rect x="236" y="1224" width="73" height="110" class="bg"/>
<path d="M101,1184 H438" stroke="#808080" stroke-width="3"/>
<path d="M101,1209 H290 V1334" stroke="#ef9449" stroke-width="3" fill="none"/>
<rect x="258" y="1191" width="32" height="12" rx="6" fill="#ddd"/>
<circle cx="264" cy="1197" r="4" fill="#3a3"/><circle cx="274" cy="1197" r="4" fill="#ee0"/><circle cx="284" cy="1197" r="4" fill="#e42"/>
<g font-size="11" font-weight="bold" fill="#222" text-anchor="middle" dominant-baseline="central">
<text x="89" y="1168">至</text><text x="89" y="1186">三</text><text x="89" y="1197">間</text><text x="89" y="1208">坂</text>
<text x="450" y="1168">至</text><text x="450" y="1186">武</text><text x="450" y="1198">雄</text>
<text x="270" y="1341">至　嬉野</text>
</g>
<circle cx="347" cy="1137" r="9" class="ys"/><line x1="347" y1="1146" x2="347" y2="1162" stroke="#000" stroke-width="1.5"/><line x1="338" y1="1162" x2="356" y2="1162" stroke="#000"/>
<circle cx="175" cy="1214" r="9" class="ys"/><line x1="175" y1="1223" x2="175" y2="1240" stroke="#000" stroke-width="1.5"/><line x1="166" y1="1240" x2="184" y2="1240" stroke="#000"/>
<circle cx="309" cy="1286" r="9" class="ys"/><line x1="309" y1="1295" x2="309" y2="1312" stroke="#000" stroke-width="1.5"/><line x1="300" y1="1312" x2="318" y2="1312" stroke="#000"/>
<rect x="355" y="1098" width="114" height="31" class="rb"/>
<text x="362" y="1108" class="r" font-size="12">⑧武雄・三間坂線</text>
<text x="462" y="1121" class="r rs" text-anchor="end">（次:小六川）</text>
<rect x="112" y="1243" width="132" height="45" class="rb"/>
<text x="116" y="1253" class="r" font-size="12">⑧武雄・三間坂線</text>
<text x="116" y="1267" class="r" font-size="12">⑨湯の田・三間坂線</text>
<text x="238" y="1280" class="r rs" text-anchor="end">（次:茅場）</text>
<rect x="312" y="1229" width="70" height="38" fill="#4a7bbf"/>
<text x="347" y="1241" font-size="11" fill="#fff" text-anchor="middle" dominant-baseline="central">ガソリン</text>
<text x="347" y="1256" font-size="11" fill="#fff" text-anchor="middle" dominant-baseline="central">スタンド</text>
<rect x="329" y="1282" width="133" height="30" class="rb"/>
<text x="334" y="1292" class="r" font-size="12">⑨湯の田・三間坂線</text>
<text x="456" y="1305" class="r rs" text-anchor="end">（次:山内東小前）</text>
</g>

<!-- ===== Library inset ===== -->
<g>
<rect x="773" y="1310" width="375" height="259" fill="#fff" stroke="#888" stroke-width="3"/>
<line x1="776" y1="1346" x2="776" y2="1566" stroke="#000" stroke-width="1"/>
<rect x="777" y="1326" width="226" height="21" fill="#000"/>
<text x="781" y="1336" font-size="16" fill="#fff" dominant-baseline="central">図書館前（ゆめタウン）バス停</text>
<rect x="914" y="1357" width="53" height="190" class="bg"/>
<g stroke-width="3" fill="none">
<path d="M924,1370 V1547" stroke="#1a8a30" stroke-dasharray="4 3"/>
<path d="M934,1370 V1547" stroke="#2f9a58"/>
<path d="M943,1370 V1547" stroke="#1467b3"/>
<path d="M951,1357 V1547" stroke="#808080"/>
<path d="M960,1525 V1547" stroke="#f7a0c9"/>
</g>
<circle cx="960" cy="1524" r="6" fill="#f7a0c9"/>
<rect x="823" y="1458" width="68" height="64" fill="#4a7bbf"/>
<text x="864" y="1470" class="v" style="fill:#fff;font-size:13px">武雄市</text>
<text x="849" y="1470" class="v" style="fill:#fff;font-size:13px">図書館</text>
<rect x="1050" y="1439" width="79" height="69" fill="#4a7bbf"/>
<text x="1090" y="1448" class="v" style="fill:#fff;font-size:12px">ゆめタウン</text>
<circle cx="904" cy="1436" r="7" class="ys"/><line x1="904" y1="1443" x2="904" y2="1456" stroke="#000"/><line x1="897" y1="1456" x2="911" y2="1456" stroke="#000"/>
<circle cx="977" cy="1473" r="7" class="ys"/><line x1="977" y1="1480" x2="977" y2="1494" stroke="#000"/><line x1="970" y1="1494" x2="984" y2="1494" stroke="#000"/>
<circle cx="975" cy="1519" r="7" class="ys"/><line x1="975" y1="1526" x2="975" y2="1540" stroke="#000"/><line x1="968" y1="1540" x2="982" y2="1540" stroke="#000"/>
<path d="M902,1428 L890,1414 M979,1466 L999,1434 M982,1519 L1004,1530" class="rl"/>
<rect x="783" y="1351" width="163" height="63" class="rb"/>
<g font-size="9" font-weight="bold" fill="#e3211c" dominant-baseline="central">
<text x="786" y="1358">「図書館前」バス停</text>
<text x="786" y="1369">①(循環)武内・武雄線</text>
<text x="786" y="1380">③祐徳線</text>
<text x="786" y="1391">④多久・武雄線　<tspan font-size="7">（次:マルキョウ前）</tspan></text>
<text x="786" y="1404">⑧武雄・三間坂線　<tspan font-size="7">（次:中央公園前）</tspan></text>
</g>
<rect x="955" y="1363" width="182" height="71" class="rb"/>
<g font-size="9" font-weight="bold" fill="#e3211c" dominant-baseline="central">
<text x="960" y="1374">「図書館前」バス停</text>
<text x="960" y="1386">①(循環)武内・武雄線</text>
<text x="960" y="1397">③祐徳線</text>
<text x="960" y="1408">④多久・武雄線　<tspan font-size="7">（次:武雄高校前）</tspan></text>
<text x="960" y="1422">⑧武雄・三間坂線　<tspan font-size="7">（次:御船が丘小）</tspan></text>
</g>
<rect x="1004" y="1513" width="118" height="41" class="rb"/>
<g font-size="8.5" font-weight="bold" fill="#e3211c" dominant-baseline="central">
<text x="1008" y="1522">「ゆめタウン」バス停</text>
<text x="1008" y="1533">嬉野線(JR九州バス)</text>
<text x="1008" y="1545">（次:白岩運動公園前）</text>
</g>
<text x="943" y="1555" font-size="9" font-weight="bold" fill="#222" text-anchor="middle" dominant-baseline="central">（競輪場方面）</text>
</g>

<!-- ===== Amakunishi inset ===== -->
<g>
<rect x="1672" y="462" width="406" height="292" fill="#fff" stroke="#888" stroke-width="3"/>
<rect x="1673" y="472" width="142" height="23" fill="#000"/>
<text x="1678" y="483" font-size="18" fill="#fff" dominant-baseline="central">甘久西バス停</text>
<rect x="1971" y="490" width="92" height="36" fill="#4a7bbf"/>
<text x="2017" y="508" font-size="12" fill="#fff" text-anchor="middle" dominant-baseline="central">篠田整形外科</text>
<rect x="1701" y="610" width="350" height="30" class="bg"/>
<polygon points="1821,549 1851,541 1935,718 1905,726" class="bg"/>
<g stroke-width="2.5" fill="none">
<path d="M1701,618 H2051" stroke="#6b1e7c" stroke-dasharray="3 2"/>
<path d="M1701,626 H2051" stroke="#1a8a30" stroke-dasharray="3 2"/>
<path d="M1701,633 H2051" stroke="#f5b914"/>
<path d="M1841,564 L1891,630 L1922,722" stroke="#1467b3"/>
</g>
<rect x="1709" y="703" width="361" height="8" fill="#000"/>
<rect x="1737" y="705" width="76" height="4" fill="#fff"/><rect x="1887" y="705" width="76" height="4" fill="#fff"/><rect x="2037" y="705" width="33" height="4" fill="#fff"/>
<g font-size="10" font-weight="bold" fill="#222" text-anchor="middle" dominant-baseline="central">
<text x="1689" y="611">至</text><text x="1689" y="628">武</text><text x="1689" y="640">雄</text>
<text x="2063" y="604">至</text><text x="2063" y="622">佐</text><text x="2063" y="634">賀</text>
</g>
<circle cx="1866" cy="558" r="8" class="ys"/><line x1="1866" y1="566" x2="1866" y2="581" stroke="#000"/><line x1="1859" y1="581" x2="1873" y2="581" stroke="#000"/>
<circle cx="1834" cy="572" r="8" class="ys"/><line x1="1834" y1="580" x2="1834" y2="595" stroke="#000"/><line x1="1827" y1="595" x2="1841" y2="595" stroke="#000"/>
<circle cx="1974" cy="593" r="8" class="ys"/><line x1="1974" y1="601" x2="1974" y2="617" stroke="#000"/><line x1="1966" y1="617" x2="1982" y2="617" stroke="#000"/>
<circle cx="1946" cy="643" r="8" class="ys"/><line x1="1946" y1="651" x2="1946" y2="667" stroke="#000"/><line x1="1938" y1="667" x2="1954" y2="667" stroke="#000"/>
<path d="M1861,551 L1832,531 M1827,571 L1760,577 M1981,591 L2015,581 M1939,643 L1820,653" class="rl"/>
<rect x="1693" y="501" width="204" height="30" class="rb"/>
<text x="1697" y="510" class="r" font-size="11.5">①(循環)武内・武雄線</text>
<text x="1880" y="523" class="r rs" text-anchor="end">（次:アクロスプラザ）</text>
<rect x="1683" y="574" width="140" height="30" class="rb"/>
<text x="1687" y="583" class="r" font-size="11.5">①(循環)武内・武雄線</text>
<text x="1818" y="596" class="r rs" text-anchor="end">（次:武雄中裏）</text>
<rect x="1902" y="535" width="168" height="46" class="rb"/>
<text x="1906" y="543" class="r" font-size="11">①(循環)武内・武雄線</text>
<text x="1906" y="556" class="r" font-size="11">②武雄線</text>
<text x="1906" y="570" class="r" font-size="11">④多久・武雄線　　<tspan font-size="9">（次:甘久）</tspan></text>
<rect x="1731" y="653" width="156" height="45" class="rb"/>
<text x="1735" y="662" class="r" font-size="11">①(循環)武内・武雄線</text>
<text x="1735" y="675" class="r" font-size="11">②武雄線</text>
<text x="1735" y="689" class="r" font-size="11">④多久・武雄線 <tspan font-size="9">（次:武雄中前）</tspan></text>
</g>

<!-- ===== Seiryo inset ===== -->
<g>
<rect x="1752" y="1181" width="510" height="354" fill="#fff" stroke="#888" stroke-width="3"/>
<rect x="1957" y="1220" width="92" height="243" class="bg"/>
<rect x="1764" y="1286" width="193" height="34" class="bg"/>
<rect x="2049" y="1352" width="107" height="22" class="bg"/>
<path d="M1770,1245 C1800,1232 1880,1233 1955,1236 L1955,1258 C1880,1262 1810,1264 1775,1262 Z" fill="#4a7bbf"/>
<path d="M2052,1230 C2120,1228 2190,1250 2233,1274 L2226,1297 C2180,1275 2120,1258 2052,1258 Z" fill="#4a7bbf"/>
<path d="M1950,1226 Q1960,1246 1950,1266 M2057,1226 Q2047,1246 2057,1266" stroke="#000" stroke-width="3" fill="none"/>
<text x="2071" y="1245" font-size="15" fill="#fff" dominant-baseline="central">武雄川</text>
<rect x="1756" y="1188" width="226" height="28" fill="#000"/>
<text x="1761" y="1202" font-size="21" fill="#fff" dominant-baseline="central">青陵中学校前バス停</text>
<path d="M1980,1223 V1303 H1764" stroke="#f06ba8" stroke-width="3" fill="none"/>
<path d="M2014,1220 V1463" stroke="#1da34b" stroke-width="3"/>
<text x="2028" y="1262" class="v" style="fill:#e3211c;font-size:13px;font-weight:bold">【祐徳】武雄線</text>
<rect x="1988" y="1357" width="32" height="12" rx="6" fill="#ddd"/>
<circle cx="1994" cy="1363" r="4" fill="#3a3"/><circle cx="2004" cy="1363" r="4" fill="#ee0"/><circle cx="2014" cy="1363" r="4" fill="#e42"/>
<rect x="2157" y="1352" width="84" height="87" fill="#4a7bbf"/>
<text x="2199" y="1360" class="v" style="fill:#fff;font-size:13px">武雄青陵中</text>
<path d="M1767,1407 H1856 V1482 A89,75 0 0 1 1767,1407 Z" fill="#1da34b"/>
<text x="1780" y="1418" font-size="10" fill="#fff" dominant-baseline="central">元 白岩球場</text>
<circle cx="1879" cy="1300" r="10" class="ys"/><line x1="1879" y1="1310" x2="1879" y2="1330" stroke="#000"/><line x1="1869" y1="1330" x2="1889" y2="1330" stroke="#000"/>
<circle cx="1959" cy="1387" r="10" class="ys"/><line x1="1959" y1="1397" x2="1959" y2="1417" stroke="#000"/><line x1="1949" y1="1417" x2="1969" y2="1417" stroke="#000"/>
<circle cx="2053" cy="1416" r="10" class="ys"/><line x1="2053" y1="1426" x2="2053" y2="1446" stroke="#000"/><line x1="2043" y1="1446" x2="2063" y2="1446" stroke="#000"/>
<rect x="1780" y="1334" width="189" height="33" class="rb"/>
<text x="1784" y="1344" class="r" font-size="14">⑦【嬉野線】<tspan font-size="10">(次:総合庁舎前)</tspan></text>
<text x="1964" y="1358" class="r" font-size="10" text-anchor="end">(次:白岩運動公園前)</text>
<rect x="1858" y="1421" width="150" height="36" class="rb"/>
<text x="1861" y="1432" class="r" font-size="14">③【祐徳線】<tspan font-size="10">武雄方面</tspan></text>
<text x="2003" y="1447" class="r" font-size="10" text-anchor="end">(次:総合庁舎前)</text>
<rect x="2055" y="1449" width="165" height="35" class="rb"/>
<text x="2058" y="1460" class="r" font-size="14">③【祐徳線】<tspan font-size="10">鹿島方面</tspan></text>
<text x="2215" y="1475" class="r" font-size="10" text-anchor="end">(次:花島)</text>
<text x="1998" y="1475" font-size="11" font-weight="bold" fill="#222" text-anchor="middle" dominant-baseline="central">至　鹿島</text>
</g>

</svg>
</body></html>
